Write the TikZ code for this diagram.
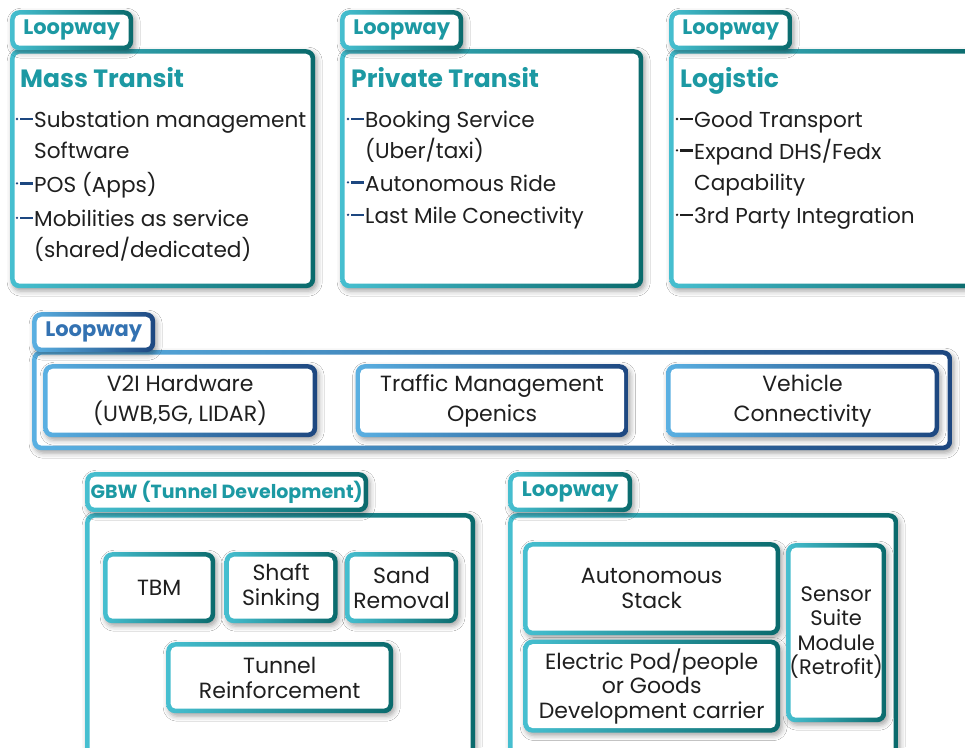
\documentclass[tikz,border=0pt]{standalone}
\usepackage{fontspec}
\setmainfont{Poppins}
\usetikzlibrary{positioning,shadows.blur}
\definecolor{tealL}{HTML}{46BFD0}
\definecolor{tealD}{HTML}{0A6A6C}
\definecolor{tealT}{HTML}{1C99A3}
\definecolor{blueL}{HTML}{5AB0E2}
\definecolor{blueD}{HTML}{1D4780}
\definecolor{blueT}{HTML}{3372B2}
\definecolor{ink}{HTML}{1F1F1F}
\newcommand\tabfont{\fontsize{21}{24}\selectfont\bfseries}
\newcommand\titlefont{\fontsize{25}{30}\selectfont\bfseries}
\newcommand\itemfont{\fontsize{21.6}{31}\selectfont}
\newcommand\boxfont{\fontsize{22}{30}\selectfont}
\newcommand\cellfont{\fontsize{22}{24.5}\selectfont}
\newcommand\itemdash[2]{%
    \fill[#2] ([shift={(-17pt,-13pt)}]#1.north west) circle (1.3pt);
    \draw[#2, line width=2.4pt] ([shift={(-14pt,-13pt)}]#1.north west) -- ([shift={(-1pt,-13pt)}]#1.north west);
}
\tikzset{
    rim/.style 2 args = {
        rounded corners=9pt,
        left color=#1,
        right color=#2,
        inner sep=0pt,
        blur shadow={shadow xshift=2pt, shadow yshift=-3pt, shadow blur radius=5pt, shadow opacity=35},
        path picture={\fill[white, rounded corners=5pt]
            ([shift={(4.5pt,-4.5pt)}]path picture bounding box.north west) rectangle
            ([shift={(-4.5pt,4.5pt)}]path picture bounding box.south east);}
    },
    panel/.style = {
        rim={#1L}{#1D},
        anchor=north west
    },
    tab/.style = {
        rim={#1L}{#1D},
        anchor=north west,
        minimum width=123pt,
        minimum height=40pt,
        font=\tabfont,
        text=#1T
    },
    cell/.style = {
        rim={#1L}{#1D},
        anchor=north west,
        align=center,
        text=ink
    },
    heading/.style = {
        anchor=base west,
        inner sep=0pt,
        font=\titlefont,
        text=tealT
    },
    item/.style = {
        anchor=north west,
        inner sep=0pt,
        align=left,
        font=\itemfont,
        text=ink
    }
}

\begin{document}
\begin{tikzpicture}[x=1pt, y=-1pt]
    \useasboundingbox[fill=white] (0,0) rectangle (965,747);
    \clip (0,0) rectangle (965,747);

    % top row
    \node[panel=teal, minimum width=305pt, minimum height=239pt] (masspanel) at (10,49) {};
    \node[tab=teal] (masstab) at (10,10) {Loopway};
    \node[panel=teal, minimum width=303pt, minimum height=239pt] (privpanel) at (340,49) {};
    \node[tab=teal] (privtab) at (340,10) {Loopway};
    \node[panel=teal, minimum width=306pt, minimum height=239pt] (logipanel) at (669,49) {};
    \node[tab=teal] (logitab) at (669,10) {Loopway};

    \node[heading] (masstitle) at (20,87) {Mass Transit};
    \node[heading] (privtitle) at (351,87) {Private Transit};
    \node[heading] (logititle) at (680,87) {Logistic};

    \node[item] (mass1) at (34,106) {\strut Substation management\\Software\strut};
    \node[item, below=2pt of mass1.south west, anchor=north west] (mass2) {\strut POS (Apps)\strut};
    \node[item, below=3pt of mass2.south west, anchor=north west] (mass3) {\strut Mobilities as service\\(shared/dedicated)\strut};

    \node[item] (priv1) at (365,106) {\strut Booking Service\\(Uber/taxi)\strut};
    \node[item, below=1pt of priv1.south west, anchor=north west] (priv2) {\strut Autonomous Ride\strut};
    \node[item, below=1pt of priv2.south west, anchor=north west] (priv3) {\strut Last Mile Conectivity\strut};

    \node[item] (logi1) at (694,106) {\strut Good Transport\strut};
    \node[item, below=0pt of logi1.south west, anchor=north west] (logi2) {\strut Expand DHS/Fedx\\Capability\strut};
    \node[item, below=2pt of logi2.south west, anchor=north west] (logi3) {\strut 3rd Party Integration\strut};

    \foreach \n in {mass1,mass2,mass3,priv1,priv2,priv3}
        {\itemdash{\n}{blueD}}
    \foreach \n in {logi1,logi2,logi3}
        {\itemdash{\n}{ink}}

    % V2I row
    \node[panel=blue, minimum width=920pt, minimum height=100pt] (netpanel) at (32,350) {};
    \node[tab=blue] (nettab) at (32,312) {Loopway};
    \node[cell=blue, font=\boxfont, minimum width=274pt, minimum height=73pt] (v2i) at (43,364) {V2I Hardware\\(UWB,5G, LIDAR)};
    \node[cell=blue, font=\boxfont, minimum width=273pt, minimum height=73pt, right=38pt of v2i] (traffic) {Traffic Management\\Openics};
    \node[cell=blue, font=\boxfont, minimum width=273pt, minimum height=73pt, right=37pt of traffic] (vehicle) {Vehicle\\Connectivity};

    % tunnel
    \node[panel=teal, minimum width=390pt, minimum height=260pt] (gbwpanel) at (85,513) {};
    \node[tab=teal, minimum width=283pt, font=\fontsize{19}{24}\selectfont\bfseries] (gbwtab) at (85,472) {GBW (Tunnel Development)};
    \node[cell=teal, font=\cellfont, minimum width=112pt, minimum height=71pt] (tbm) at (103,552) {TBM};
    \node[cell=teal, font=\cellfont, minimum width=113pt, minimum height=71pt, right=9pt of tbm] (shaft) {Shaft\\Sinking};
    \node[cell=teal, font=\cellfont, minimum width=113pt, minimum height=71pt, right=7pt of shaft] (sand) {Sand\\Removal};
    \node[cell=teal, font=\cellfont, minimum width=227pt, minimum height=71pt] (tunnel) at (166,642) {Tunnel\\Reinforcement};

    % vehicle
    \node[panel=teal, minimum width=390pt, minimum height=260pt] (podpanel) at (508,513) {};
    \node[tab=teal, minimum width=124pt] (podtab) at (508,472) {Loopway};
    \node[cell=teal, font=\cellfont, minimum width=257pt, minimum height=93pt] (stack) at (523,542) {Autonomous\\Stack};
    \node[cell=teal, font=\cellfont, minimum width=257pt, minimum height=93pt, below=4pt of stack] (pod) {Electric Pod/people\\or Goods\\Development carrier};
    \node[cell=teal, font=\fontsize{21}{24.5}\selectfont, minimum width=100pt, minimum height=179pt] (sensor) at (786,543) {Sensor\\Suite\\Module\\(Retrofit)};
\end{tikzpicture}
\end{document}
